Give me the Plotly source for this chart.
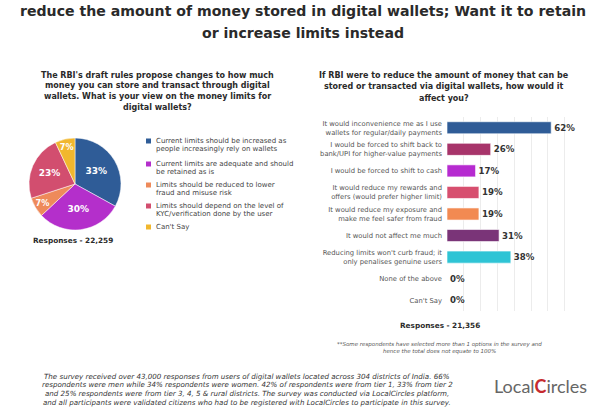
import plotly.graph_objects as go

# ---------------- data ----------------
title_lines = ["reduce the amount of money stored in digital wallets; Want it to retain",
               "or increase limits instead"]

pie_question = ["The RBI's draft rules propose changes to how much",
                "money you can store and transact through digital",
                "wallets. What is your view on the money limits for",
                "digital wallets?"]
pie_labels = [["Current limits should be increased as", "people increasingly rely on wallets"],
              ["Current limits are adequate and should", "be retained as is"],
              ["Limits should be reduced to lower", "fraud and misuse risk"],
              ["Limits should depend on the level of", "KYC/verification done by the user"],
              ["Can't Say"]]
pie_values = [33, 30, 7, 23, 7]
pie_colors = ["#2F5C97", "#B42FCB", "#EE8A5A", "#D24E6F", "#F1B72E"]
pie_responses = "Responses - 22,259"

bar_question = ["If RBI were to reduce the amount of money that can be",
                "stored or transacted via digital wallets, how would it",
                "affect you?"]
bar_labels = ["It would inconvenience me as I use<br>wallets for regular/daily payments",
              "I would be forced to shift back to<br>bank/UPI for higher-value payments",
              "I would be forced to shift to cash",
              "It would reduce my rewards and<br>offers (would prefer higher limit)",
              "It would reduce my exposure and<br>make me feel safer from fraud",
              "It would not affect me much",
              "Reducing limits won't curb fraud; it<br>only penalises genuine users",
              "None of the above",
              "Can't Say"]
bar_values = [62, 26, 17, 19, 19, 31, 38, 0, 0]
bar_colors = ["#2F5C97", "#A7346A", "#B62BD0", "#D74F6F", "#F28A52", "#7A3478", "#2EC4D5", "#FFFFFF", "#FFFFFF"]
bar_responses = "Responses - 21,356"

footnote = ["**Some respondents have selected more than 1 options in the survey and",
            "hence the total does not equate to 100%"]
paragraph = ["The survey received over 43,000 responses from users of digital wallets located across 304 districts of India. 66%",
             "respondents were men while 34% respondents were women. 42% of respondents were from tier 1, 33% from tier 2",
             "and 25% respondents were from tier 3, 4, 5 & rural districts. The survey was conducted via LocalCircles platform,",
             "and all participants were validated citizens who had to be registered with LocalCircles to participate in this survey."]

W, H = 600, 420
FONT = "DejaVu Sans"
DARK = "#2a2a2a"


def px(x):
    return x / W


def py(y):
    return 1 - y / H


fig = go.Figure()

# pie
fig.add_trace(go.Pie(
    values=pie_values, labels=[" ".join(l) for l in pie_labels],
    marker=dict(colors=pie_colors, line=dict(color="white", width=0.5)),
    sort=False, direction="clockwise", rotation=0,
    texttemplate="<b>%{value}%</b>", textinfo="text", textposition="inside",
    insidetextfont=dict(color="white", size=9, family=FONT),
    insidetextorientation="horizontal",
    domain=dict(x=[px(29), px(121)], y=[py(230), py(138)]),
    showlegend=False, hoverinfo="label+value",
))

# bars
bar_text = [f"<b>{v}%</b>" for v in bar_values]
fig.add_trace(go.Bar(
    x=bar_values, y=bar_labels, orientation="h",
    marker=dict(color=bar_colors, line=dict(color="rgba(255,255,255,0.6)", width=1)),
    text=bar_text, textposition="outside", cliponaxis=False,
    textfont=dict(size=8.6, color="#333", family=FONT),
    width=0.56, xaxis="x", yaxis="y", showlegend=False,
))

fig.update_layout(
    width=W, height=H, margin=dict(l=0, r=0, t=0, b=0),
    paper_bgcolor="white", plot_bgcolor="white",
    font=dict(family=FONT, color=DARK),
    xaxis=dict(domain=[px(447), px(568)], range=[0, 72], dtick=10,
               showgrid=True, gridcolor="#ececec", gridwidth=1,
               showticklabels=False, zeroline=False, showline=False, ticks=""),
    yaxis=dict(domain=[py(311), py(117)], autorange="reversed",
               tickfont=dict(size=6.8, color="#555", family=FONT),
               showgrid=False, zeroline=False, showline=False, ticks="", ticklabelstandoff=4),
    bargap=0.44,
)

ann = []


def line_ann(text, x, y, size, color=DARK, xanchor="center", bold=False, italic=False):
    t = text
    if bold:
        t = "<b>" + t + "</b>"
    if italic:
        t = "<i>" + t + "</i>"
    ann.append(dict(x=px(x), y=py(y), xref="paper", yref="paper", xanchor=xanchor, yanchor="middle",
                    text=t, showarrow=False, font=dict(size=size, color=color, family=FONT)))


# title
for i, t in enumerate(title_lines):
    line_ann(t, 303, 11 + 22 * i, 14.1, bold=True)
# questions
for i, t in enumerate(pie_question):
    line_ann(t, 158, 75 + 10.8 * i, 8.0, bold=True)
for i, t in enumerate(bar_question):
    line_ann(t, 444, 75 + 11.5 * i, 8.0, bold=True)
# responses
line_ann(pie_responses, 73, 241, 7.3, bold=True)
line_ann(bar_responses, 440, 325, 7.3, bold=True)
# footnote & paragraph
for i, t in enumerate(footnote):
    line_ann(t, 440, 344 + 7 * i, 5.5, color="#555", italic=True)
for i, t in enumerate(paragraph):
    line_ann(t, 247, 376 + 8.7 * i, 7.1, color="#333", italic=True)
# logo
ann.append(dict(x=px(540), y=py(386), xref="paper", yref="paper", xanchor="center", yanchor="middle",
                text="Local<span style='color:#C62A2F'><b>C</b></span>ircles", showarrow=False,
                font=dict(size=18, color="#666", family="Lato")))

shapes = []
# pie legend
leg_y = [141, 164, 185, 206, 227]
for i, (lab, col) in enumerate(zip(pie_labels, pie_colors)):
    y0 = leg_y[i]
    shapes.append(dict(type="rect", xref="paper", yref="paper",
                       x0=px(146), x1=px(151), y0=py(y0 + 2.5), y1=py(y0 - 2.5),
                       fillcolor=col, line=dict(width=0)))
    for j, t in enumerate(lab):
        line_ann(t, 154, y0 + 7.8 * j, 7.0, color="#444", xanchor="left")

fig.update_layout(annotations=ann, shapes=shapes)
fig.write_html("out.html")
